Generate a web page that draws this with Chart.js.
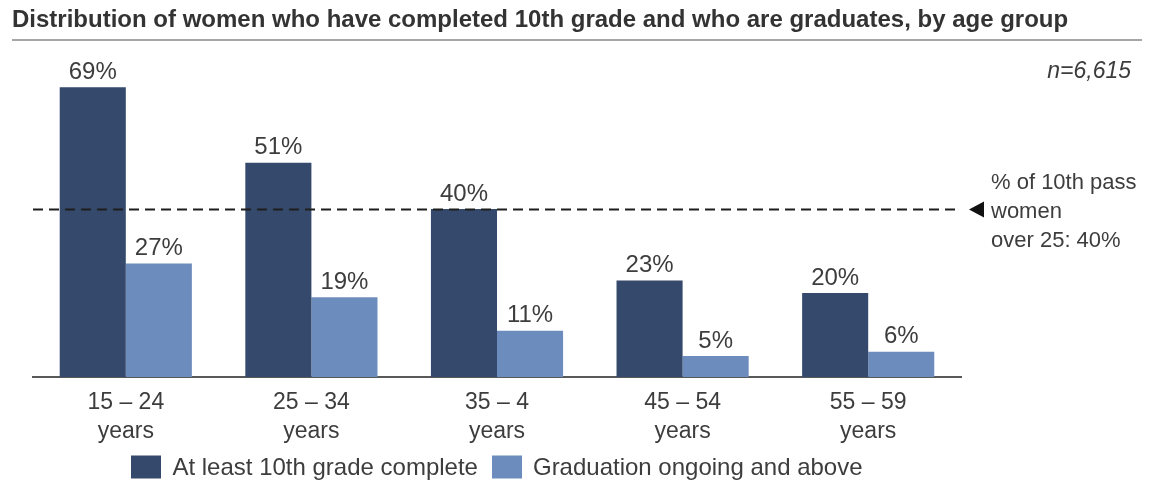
<!DOCTYPE html>
<html><head><meta charset="utf-8">
<script src="https://cdn.jsdelivr.net/npm/chart.js@4"></script>
<style>html,body{margin:0;padding:0;background:#fff;overflow:hidden}</style>
</head><body>
<canvas id="c" width="1152" height="485"></canvas>
<script>
const categories = [["15 – 24","years"],["25 – 34","years"],["35 – 4","years"],["45 – 54","years"],["55 – 59","years"]];
const tenthComplete = [69,51,40,23,20];
const graduation = [27,19,11,5,6];
const seriesNames = ["At least 10th grade complete","Graduation ongoing and above"];
const referenceValue = 40;
const referenceLabel = ["% of 10th pass","women","over 25: 40%"];
const titleText = "Distribution of women who have completed 10th grade and who are graduates, by age group";
const sampleText = "n=6,615";

const DARK = '#34496b', LIGHT = '#6b8cbd', TXT = '#3d3d3d';
const FONT = '"Liberation Sans", Arial, sans-serif';

const extras = {
  id: 'extras',
  afterDatasetsDraw(chart) {
    const ctx = chart.ctx, ca = chart.chartArea, y = chart.scales.y;
    ctx.save();
    // value labels
    ctx.font = '24px ' + FONT;
    ctx.fillStyle = TXT;
    ctx.textAlign = 'center';
    ctx.textBaseline = 'bottom';
    chart.data.datasets.forEach((ds, di) => {
      chart.getDatasetMeta(di).data.forEach((bar, i) => {
        ctx.fillText(ds.data[i] + '%', bar.x, bar.y - 3);
      });
    });
    // reference dashed line
    const ry = Math.round(y.getPixelForValue(referenceValue)) + 0.5;
    ctx.strokeStyle = '#1e1e1e';
    ctx.lineWidth = 2;
    ctx.setLineDash([10, 6]);
    ctx.beginPath();
    ctx.moveTo(ca.left, ry);
    ctx.lineTo(ca.right - 5, ry);
    ctx.stroke();
    ctx.setLineDash([]);
    // triangle marker
    ctx.fillStyle = '#111';
    ctx.beginPath();
    ctx.moveTo(969, ry);
    ctx.lineTo(984, ry - 8);
    ctx.lineTo(984, ry + 8);
    ctx.closePath();
    ctx.fill();
    // annotation
    ctx.fillStyle = TXT;
    ctx.textAlign = 'left';
    ctx.textBaseline = 'middle';
    ctx.font = '22px ' + FONT;
    referenceLabel.forEach((t, k) => ctx.fillText(t, 991, ry - 27 + k * 29));
    // title
    ctx.font = 'bold 24px ' + FONT;
    ctx.fillStyle = '#333';
    ctx.textBaseline = 'middle';
    ctx.fillText(titleText, 12, 20);
    ctx.fillStyle = '#a6a6a6';
    ctx.fillRect(12, 39, 1130, 2);
    // n
    ctx.font = 'italic 23px ' + FONT;
    ctx.fillStyle = TXT;
    ctx.textAlign = 'right';
    ctx.fillText(sampleText, 1131, 72);
    // legend
    ctx.font = '24px ' + FONT;
    ctx.textAlign = 'left';
    ctx.textBaseline = 'middle';
    const bw = 30, bh = 23, gapBT = 11, gapItems = 14, ly = 467;
    const items = chart.data.datasets.map(ds => ({ label: ds.label, color: ds.backgroundColor, w: ctx.measureText(ds.label).width }));
    const total = items.reduce((s, it) => s + bw + gapBT + it.w, 0) + gapItems * (items.length - 1);
    let lx = (ca.left + ca.right) / 2 - total / 2;
    items.forEach(it => {
      ctx.fillStyle = it.color;
      ctx.fillRect(Math.round(lx), ly - bh / 2, bw, bh);
      ctx.fillStyle = TXT;
      ctx.fillText(it.label, lx + bw + gapBT, ly + 1);
      lx += bw + gapBT + it.w + gapItems;
    });
    ctx.restore();
  }
};

new Chart(document.getElementById('c'), {
  type: 'bar',
  data: {
    labels: categories,
    datasets: [
      { label: seriesNames[0], data: tenthComplete, backgroundColor: DARK },
      { label: seriesNames[1], data: graduation, backgroundColor: LIGHT }
    ]
  },
  options: {
    responsive: false,
    animation: false,
    devicePixelRatio: 1,
    layout: { padding: { left: 33, right: 191, top: 41, bottom: 40 } },
    datasets: { bar: { categoryPercentage: 0.712, barPercentage: 1.0 } },
    scales: {
      x: {
        grid: { display: false, drawTicks: false },
        border: { display: true, color: '#595959', width: 2 },
        ticks: { font: { family: FONT, size: 23, lineHeight: 1.26 }, color: TXT, padding: 11 },
        afterFit(scale) { scale.height = 68; }
      },
      y: { display: false, min: 0, max: 80 }
    },
    plugins: {
      legend: { display: false },
      tooltip: { enabled: false }
    }
  },
  plugins: [extras]
});
</script>
</body></html>
